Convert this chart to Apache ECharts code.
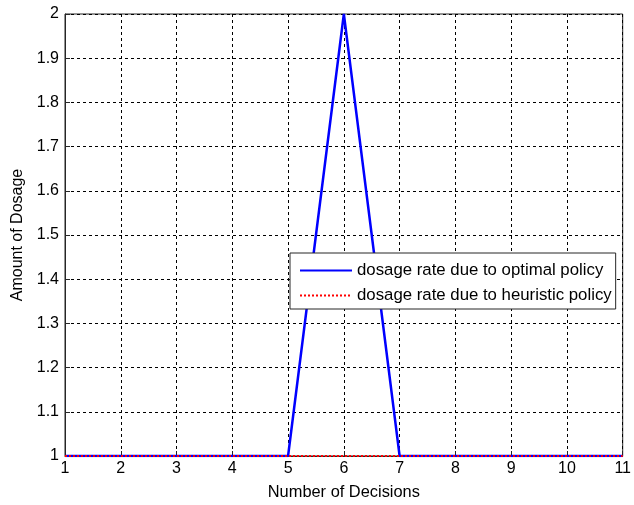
<!DOCTYPE html>
<html>
<head>
<meta charset="utf-8">
<script src="https://cdn.jsdelivr.net/npm/echarts@6/dist/echarts.min.js"></script>
<style>html,body{margin:0;padding:0;background:#fff}#c{width:634px;height:505px}</style>
</head>
<body>
<div id="c"></div>
<script>
var decisions = [1, 2, 3, 4, 5, 6, 7, 8, 9, 10, 11];
var optimal = [1, 1, 1, 1, 1, 2, 1, 1, 1, 1, 1];
var heuristic = [1, 1, 1, 1, 1, 1, 1, 1, 1, 1, 1];
var seriesNames = ['dosage rate due to optimal policy', 'dosage rate due to heuristic policy'];

function pairs(xs, ys) { return xs.map(function (x, i) { return [x, ys[i]]; }); }

var chart = echarts.init(document.getElementById('c'));
var font = 'Liberation Sans, Arial, sans-serif';
chart.setOption({
  animation: false,
  backgroundColor: '#fff',
  textStyle: { fontFamily: font },
  grid: { left: 65, right: 8, top: 14, bottom: 49, show: true, borderColor: '#262626', borderWidth: 1, backgroundColor: 'transparent' },
  legend: {
    left: 290, top: 253, orient: 'vertical',
    padding: [9, 4, 5, 9],
    itemGap: 8,
    itemWidth: 52, itemHeight: 16,
    itemStyle: { opacity: 0 },
    backgroundColor: '#fff', borderColor: '#262626', borderWidth: 1, borderRadius: 0,
    textStyle: { fontFamily: font, fontSize: 16.8, color: '#000' },
    data: seriesNames
  },
  xAxis: {
    type: 'value', min: 1, max: 11, interval: 1,
    name: 'Number of Decisions', nameLocation: 'middle', nameGap: 28,
    nameTextStyle: { fontFamily: font, fontSize: 16.4, color: '#000' },
    axisLine: { lineStyle: { color: '#262626' } },
    axisTick: { inside: true, length: 5, lineStyle: { color: '#262626' } },
    axisLabel: { color: '#000', fontSize: 16, fontFamily: font, margin: 5 },
    splitLine: { show: true, lineStyle: { color: '#000', type: [3, 3], width: 1 } }
  },
  yAxis: {
    type: 'value', min: 1, max: 2, interval: 0.1,
    name: 'Amount of Dosage', nameLocation: 'middle', nameGap: 39,
    nameTextStyle: { fontFamily: font, fontSize: 16, color: '#000' },
    axisLine: { show: true, lineStyle: { color: '#262626' } },
    axisTick: { show: true, inside: true, length: 5, lineStyle: { color: '#262626' } },
    axisLabel: { color: '#000', fontSize: 16, fontFamily: font, margin: 6,
      formatter: function (v) { return String(+v.toFixed(1)); } },
    splitLine: { show: true, lineStyle: { color: '#000', type: [3, 3], width: 1 } }
  },
  series: [
    { name: seriesNames[0], type: 'line', data: pairs(decisions, optimal), symbol: 'none',
      lineStyle: { color: '#0000ff', width: 2.5 }, itemStyle: { color: '#0000ff' }, z: 2 },
    { name: seriesNames[1], type: 'line', data: pairs(decisions, heuristic), symbol: 'none',
      lineStyle: { color: '#ff0000', width: 2, type: [2, 2] }, itemStyle: { color: '#ff0000' }, z: 3 }
  ]
});
</script>
</body>
</html>
